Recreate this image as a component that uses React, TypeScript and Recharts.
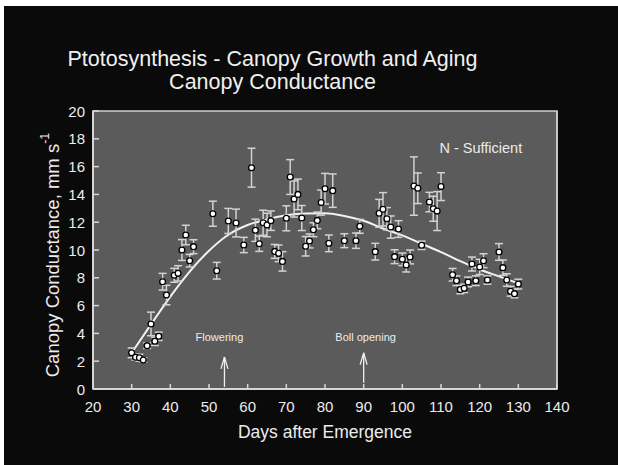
import React from 'react';
import {
  ComposedChart,
  XAxis,
  YAxis,
  Scatter,
  Line,
  ErrorBar,
  CartesianGrid,
  ReferenceArea,
  ReferenceLine,
  ReferenceDot,
} from 'recharts';

// ---- data ----
const days = [
  30, 31, 32, 33, 34, 35, 36, 37, 38, 39, 41, 42, 43, 44, 45, 46, 51, 52, 55, 57,
  59, 61, 62, 63, 64, 65, 66, 67, 68, 69, 70, 71, 72, 73, 74, 75, 76, 77, 78, 79,
  80, 81, 82, 85, 88, 89, 93, 94, 95, 96, 97, 98, 99, 100, 101, 102, 103, 104, 105, 107,
  108, 109, 110, 113, 114, 115, 116, 117, 118, 119, 120, 121, 122, 125, 126, 127, 128, 129, 130,
];
const conductance = [
  2.6, 2.28, 2.25, 2.09, 3.12, 4.68, 3.43, 3.79, 7.72, 6.76, 8.18, 8.32, 10.0, 11.08, 9.23, 10.24, 12.61, 8.51, 12.09, 11.94,
  10.36, 15.92, 11.42, 10.45, 11.96, 11.8, 12.11, 9.9, 9.76, 9.18, 12.28, 15.25, 13.67, 14.0, 12.3, 10.27, 10.65, 11.46, 12.13, 13.41,
  14.41, 10.48, 14.27, 10.67, 10.67, 11.7, 9.88, 12.64, 12.93, 12.25, 11.65, 9.52, 11.51, 9.33, 8.92, 9.5, 14.6, 14.44, 10.34, 13.45,
  12.97, 12.8, 14.56, 8.22, 7.79, 7.15, 7.24, 7.7, 8.99, 7.79, 8.78, 9.23, 7.84, 9.86, 8.73, 7.84, 7.03, 6.86, 7.55,
];
const stdErr = [
  0.35, 0.2, 0.25, 0.15, 0.2, 0.85, 0.3, 0.3, 0.6, 0.7, 0.5, 0.55, 0.75, 0.7, 0.45, 0.5, 0.9, 0.6, 0.9, 1.0,
  0.55, 1.4, 0.8, 0.55, 0.9, 0.85, 0.7, 0.5, 0.6, 0.7, 0.9, 1.25, 1.3, 1.1, 0.9, 0.7, 0.5, 0.5, 0.6, 0.9,
  1.1, 0.6, 1.2, 0.5, 0.55, 0.5, 0.6, 1.0, 1.2, 0.8, 0.8, 0.5, 0.6, 0.45, 0.5, 0.5, 2.1, 1.1, 0.3, 0.7,
  0.9, 1.4, 1.0, 0.45, 0.35, 0.3, 0.3, 0.35, 0.5, 0.35, 0.55, 0.5, 0.3, 0.6, 0.55, 0.45, 0.35, 0.3, 0.35,
];
const fitDays = [30, 35, 40, 45, 50, 55, 60, 65, 70, 75, 80, 85, 90, 95, 100, 105, 110, 115, 120, 125, 130];
const fitValues = [2.6, 4.65, 6.65, 8.45, 9.95, 11.1, 11.8, 12.2, 12.5, 12.63, 12.65, 12.45, 12.1, 11.55, 11.05, 10.45, 9.85, 9.2, 8.6, 8.1, 7.6];
const xTicks = [20, 30, 40, 50, 60, 70, 80, 90, 100, 110, 120, 130, 140];
const yTicks = [0, 2, 4, 6, 8, 10, 12, 14, 16, 18, 20];
const stageLabels = ['Flowering', 'Boll opening'];
const stageDays = [54, 90];
const titleLines = ['Ptotosynthesis - Canopy Growth and Aging', 'Canopy Conductance'];
const treatmentLabel = 'N - Sufficient';

const scatterData = days.map((d, i) => ({ x: d, y: conductance[i], err: stdErr[i] }));
const fitData = fitDays.map((d, i) => ({ x: d, y: fitValues[i] }));

const FONT = '"Liberation Sans", Arial, Helvetica, sans-serif';
const TEXT = '#ececec';
const AXIS = '#e4e4e4';

const LeftTick = (props: any) => {
  const { x, y, payload } = props;
  return (
    <g>
      <line x1={x} x2={x + 6} y1={y} y2={y} stroke="#d6d6d6" strokeWidth={1.5} />
      <text x={x - 8} y={y} textAnchor="end" dominantBaseline="central" fill={TEXT} fontSize={15} fontFamily={FONT}>
        {payload.value}
      </text>
    </g>
  );
};
const RightTick = (props: any) => {
  const { x, y } = props;
  return <line x1={x} x2={x - 6} y1={y} y2={y} stroke="#d6d6d6" strokeWidth={1.5} />;
};
const BottomTick = (props: any) => {
  const { x, y, payload } = props;
  return (
    <g>
      <line x1={x} x2={x} y1={y} y2={y - 5} stroke="#d6d6d6" strokeWidth={1.5} />
      <text x={x} y={y + 17} textAnchor="middle" dominantBaseline="central" fill={TEXT} fontSize={15} fontFamily={FONT}>
        {payload.value}
      </text>
    </g>
  );
};

const Marker = (props: any) => {
  const { cx, cy } = props;
  return <circle cx={cx} cy={cy} r={2.9} fill="#ffffff" stroke="#000000" strokeWidth={1.3} />;
};

export default function App() {
  return (
    <div
      style={{
        position: 'absolute',
        left: 4,
        top: 6,
        width: 614,
        height: 459,
        background: '#0a0a0a',
        fontFamily: FONT,
      }}
    >
      <ComposedChart width={614} height={459} margin={{ top: 105, right: 60, bottom: 36, left: 29 }}>
        <CartesianGrid fill="#5b5b5b" horizontal={false} vertical={false} />
        <XAxis
          type="number"
          dataKey="x"
          domain={[20, 140]}
          ticks={xTicks}
          allowDataOverflow
          height={40}
          tickSize={0}
          tickMargin={0}
          tickLine={false}
          axisLine={{ stroke: AXIS, strokeWidth: 1.5 }}
          tick={<BottomTick />}
          label={{
            content: (p: any) => (
              <text
                x={p.viewBox.x + p.viewBox.width / 2}
                y={p.viewBox.y + 43}
                textAnchor="middle"
                dominantBaseline="central"
                fill={TEXT}
                fontSize={17.5}
                fontFamily={FONT}
              >
                Days after Emergence
              </text>
            ),
          }}
        />
        <YAxis
          type="number"
          domain={[0, 20]}
          ticks={yTicks}
          allowDataOverflow
          width={60}
          tickSize={0}
          tickMargin={0}
          tickLine={false}
          axisLine={{ stroke: AXIS, strokeWidth: 1.5 }}
          tick={<LeftTick />}
          label={{
            content: (p: any) => (
              <text
                transform={`translate(${p.viewBox.x + 19}, ${p.viewBox.y + p.viewBox.height / 2 + 5}) rotate(-90)`}
                textAnchor="middle"
                dominantBaseline="central"
                fill={TEXT}
                fontSize={18.5}
                fontFamily={FONT}
              >
                Canopy Conductance, mm s
                <tspan dy={-7} fontSize={12.5}>
                  -1
                </tspan>
              </text>
            ),
          }}
        />
        <YAxis
          yAxisId="right"
          orientation="right"
          type="number"
          domain={[0, 20]}
          ticks={yTicks}
          width={1}
          tickSize={0}
          tickMargin={0}
          tickLine={false}
          axisLine={{ stroke: '#d0d0d0', strokeWidth: 1.5 }}
          tick={<RightTick />}
        />
        <ReferenceArea x1={20} x2={140} y1={0} y2={20} fill="none" stroke="#d0d0d0" strokeWidth={1.5} />
        <Line
          data={fitData}
          dataKey="y"
          type="monotone"
          dot={false}
          stroke="#f2f2f2"
          strokeWidth={2}
          isAnimationActive={false}
        />
        <Scatter data={scatterData} dataKey="y" shape={<Marker />} isAnimationActive={false}>
          <ErrorBar dataKey="err" direction="y" width={4} stroke="#d2d2d2" strokeWidth={1.5} />
        </Scatter>
        {stageDays.map((d, i) => (
          <ReferenceLine
            key={`s${i}`}
            segment={[
              { x: d, y: i === 0 ? 0.15 : 0.45 },
              { x: d, y: i === 0 ? 2.3 : 2.6 },
            ]}
            stroke="#f0f0f0"
            strokeWidth={1.3}
          />
        ))}
        {stageDays.map((d, i) => (
          <ReferenceLine
            key={`l${i}`}
            segment={[
              { x: d - 0.9, y: (i === 0 ? 2.3 : 2.6) - 0.85 },
              { x: d, y: i === 0 ? 2.3 : 2.6 },
            ]}
            stroke="#f0f0f0"
            strokeWidth={1.3}
          />
        ))}
        {stageDays.map((d, i) => (
          <ReferenceLine
            key={`r${i}`}
            segment={[
              { x: d + 0.9, y: (i === 0 ? 2.3 : 2.6) - 0.85 },
              { x: d, y: i === 0 ? 2.3 : 2.6 },
            ]}
            stroke="#f0f0f0"
            strokeWidth={1.3}
          />
        ))}
        {stageDays.map((d, i) => (
          <ReferenceDot
            key={`t${i}`}
            x={i === 0 ? d - 1.3 : d + 0.5}
            y={3.74}
            r={0}
            fill="none"
            stroke="none"
            label={{ value: stageLabels[i], position: 'center', fill: TEXT, fontSize: 11, fontFamily: FONT }}
          />
        ))}
        <ReferenceDot
          x={120.3}
          y={17.34}
          r={0}
          fill="none"
          stroke="none"
          label={{ value: treatmentLabel, position: 'center', fill: TEXT, fontSize: 14.5, fontFamily: FONT }}
        />
      </ComposedChart>
      {titleLines.map((t, i) => (
        <div
          key={t}
          style={{
            position: 'absolute',
            left: 0,
            top: 43 + i * 23,
            width: 537,
            textAlign: 'center',
            color: '#f0f0f0',
            fontSize: 21.5,
            lineHeight: '21px',
            whiteSpace: 'nowrap',
            fontFamily: FONT,
          }}
        >
          {t}
        </div>
      ))}
    </div>
  );
}
